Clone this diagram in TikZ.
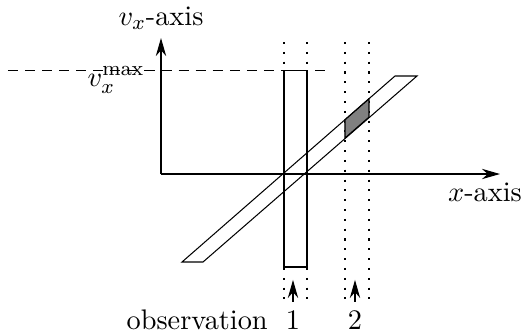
\documentclass[tikz,border=0pt]{standalone}
\usetikzlibrary{arrows.meta,calc,positioning}

\begin{document}
\begin{tikzpicture}[>={Stealth[length=7pt,width=4pt]}, x=0.0136cm, y=0.0136cm,
        font=\fontsize{10.95}{13}\selectfont,
        obsline/.style={dash pattern=on 0.8pt off 3pt},
        maxline/.style={dash pattern=on 3.9pt off 2.7pt}]
    \useasboundingbox (-161,-158) rectangle (361,174);
    \coordinate (o) at (0,0);
    \coordinate (ytip) at (0,136);
    \coordinate (xtip) at (339,0);

    % observation windows
    \foreach \x in {123,146,184,208}{
        \draw[obsline] (\x,132) -- (\x,-129);
    }
    \draw[maxline] (-153,103.3) -- (164,103.3);

    % band of possible states
    \coordinate (b1) at (21,-88);
    \coordinate (b2) at (42,-88);
    \coordinate (b3) at (256,98);
    \coordinate (b4) at (234,98);
    \draw[fill=gray] (184,36.0) -- (208,56.9) -- (208,75.3) -- (184,54.3) -- cycle;
    \draw (b1) -- (b2) -- (b3) -- (b4) -- cycle;
    \draw (123,-93) rectangle (146,103.3);

    % axes
    \draw[->] (o) -- (ytip);
    \draw[->] (o) -- (xtip);
    \node (vlab) at (0,156) {$v_x$-axis};
    \node (xlab) at (324,-18) {$x$-axis};
    \node (vmax) at (-45,94) {$v_x^{\max}$};

    % observations
    \node (n1) at (132,-146.5) {1};
    \node (n2) at (194,-146.5) {2};
    \node[base left=0pt of n1] (obs) {observation};
    \draw[->] (n1.north) -- ++(0,22);
    \draw[->] (n2.north) -- ++(0,22);
\end{tikzpicture}
\end{document}
